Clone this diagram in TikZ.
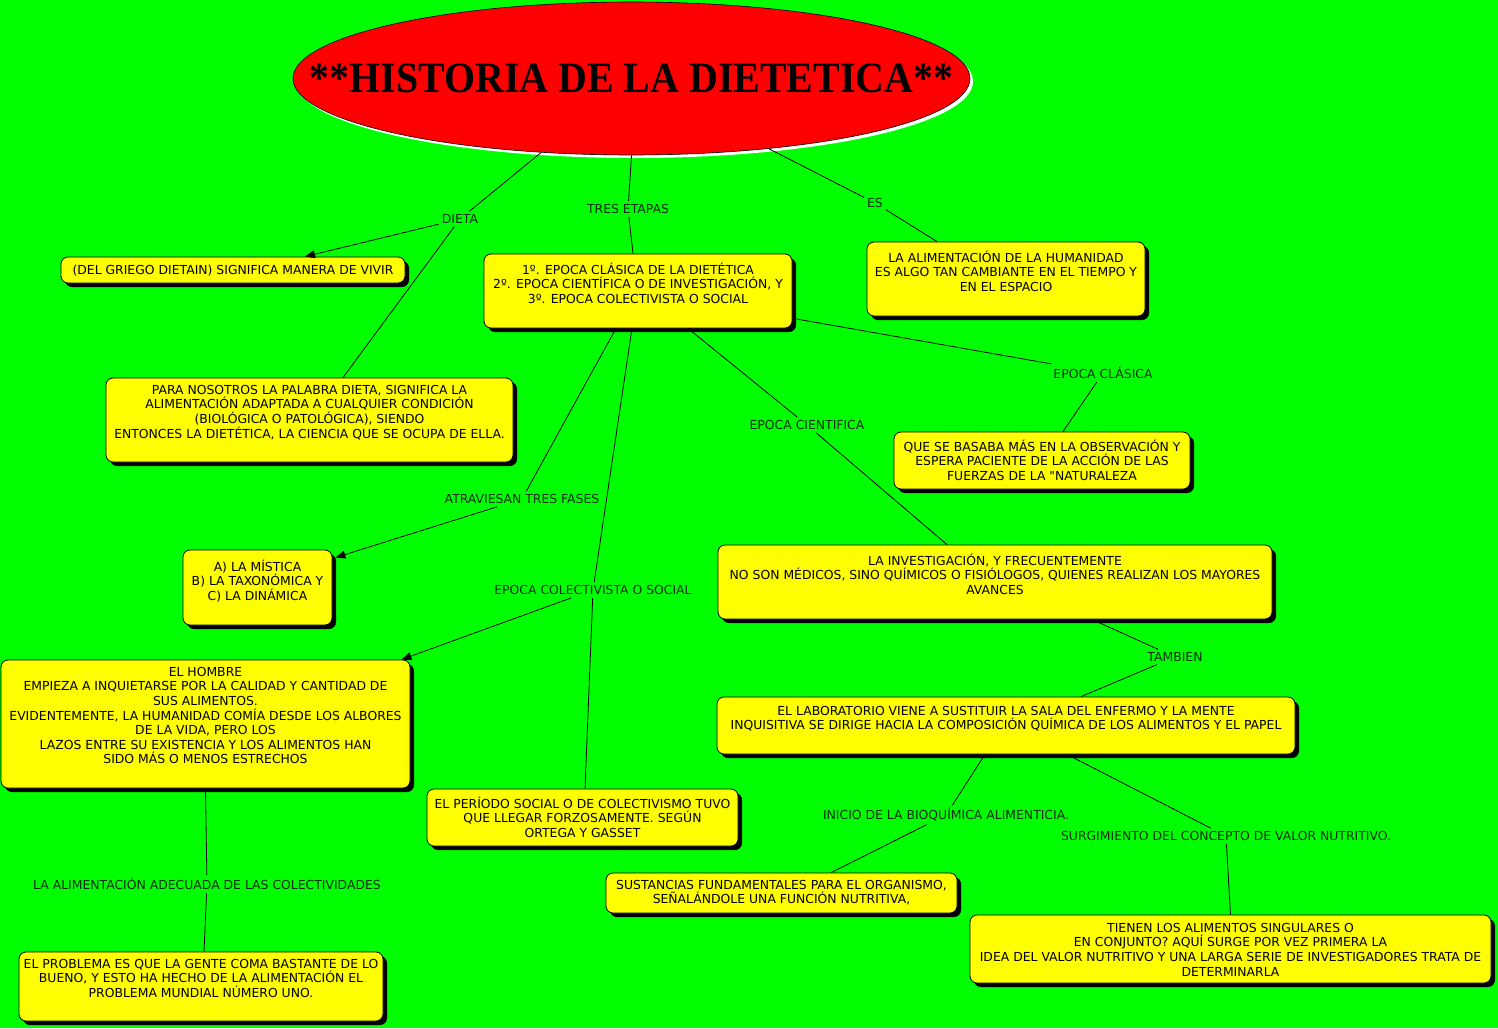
\documentclass[tikz,border=0pt]{standalone}
\usepackage{fontspec}
\setmainfont{DejaVu Sans}[Ligatures=TeXOff]
\newfontfamily\titlefont{Liberation Serif}
\usetikzlibrary{shapes.geometric,shadows,arrows.meta}
\definecolor{bggreen}{RGB}{0,255,0}
\definecolor{boxyellow}{RGB}{255,255,0}
\definecolor{titlered}{RGB}{255,0,0}
\definecolor{labelcol}{RGB}{10,45,10}
\newcommand{\bodyfont}{\fontsize{12.4}{14.6}\selectfont}
\newcommand{\ybox}[7]{%
  \node[ybox, minimum width=#4pt, minimum height=#5pt] (#1) at (#2,#3) {};
  \node[btext] (#1t) at ([yshift=-#6pt]#1.north) {\rule{0pt}{13pt}#7};}
\begin{document}
\begin{tikzpicture}[x=1pt,y=-1pt,
  ybox/.style={draw=black, line width=0.8pt, fill=boxyellow, rounded corners=7pt, inner sep=0pt,
     drop shadow={shadow xshift=4pt, shadow yshift=-4pt, fill=black, opacity=1}},
  btext/.style={anchor=north, inner sep=0pt, align=center, font=\bodyfont, text=black},
  lab/.style={inner sep=3pt, font=\bodyfont, text=labelcol},
  conn/.style={draw=black, line width=0.8pt},
  arr/.style={conn, -{Triangle[length=10pt,width=8pt]}}]
\fill[bggreen] (0,0) rectangle (1498,1028);
\useasboundingbox (0,0) rectangle (1498,1028);
% title ellipse
\node[ellipse, draw=black, line width=0.6pt, fill=titlered, minimum width=677pt, minimum height=153pt, inner sep=0pt,
  drop shadow={shadow xshift=3pt, shadow yshift=-3pt, fill=white, opacity=1}] (E) at (631.5,78.5) {};
\node[inner sep=0pt] (title) at (E.center) {\scalebox{0.95}[1.03]{\titlefont\bfseries\fontsize{42}{46}\selectfont **HISTORIA DE LA DIETETICA**}};
% boxes
\ybox{B1}{233}{270}{344}{26}{4.5}{(DEL GRIEGO DIETAIN) SIGNIFICA MANERA DE VIVIR}
\ybox{B2}{309.5}{420}{407}{84}{3.5}{PARA NOSOTROS LA PALABRA DIETA, SIGNIFICA LA\\ALIMENTACIÓN ADAPTADA A CUALQUIER CONDICIÓN\\(BIOLÓGICA O PATOLÓGICA), SIENDO\\ENTONCES LA DIETÉTICA, LA CIENCIA QUE SE OCUPA DE ELLA.}
\ybox{B3}{638}{291}{308}{74}{7.5}{1º. EPOCA CLÁSICA DE LA DIETÉTICA\\2º. EPOCA CIENTÍFICA O DE INVESTIGACIÓN, Y\\3º. EPOCA COLECTIVISTA O SOCIAL}
\ybox{B4}{1006}{279}{278}{74}{7.5}{LA ALIMENTACIÓN DE LA HUMANIDAD\\ES ALGO TAN CAMBIANTE EN EL TIEMPO Y\\EN EL ESPACIO}
\ybox{B5}{1042}{460.5}{296}{57}{6.5}{QUE SE BASABA MÁS EN LA OBSERVACIÓN Y\\ESPERA PACIENTE DE LA ACCIÓN DE LAS\\FUERZAS DE LA "NATURALEZA}
\ybox{B6}{995}{582}{554}{74}{7.5}{LA INVESTIGACIÓN, Y FRECUENTEMENTE\\NO SON MÉDICOS, SINO QUÍMICOS O FISIÓLOGOS, QUIENES REALIZAN LOS MAYORES\\AVANCES}
\ybox{B7}{1006}{725.5}{578}{57}{5.5}{EL LABORATORIO VIENE A SUSTITUIR LA SALA DEL ENFERMO Y LA MENTE\\INQUISITIVA SE DIRIGE HACIA LA COMPOSICIÓN QUÍMICA DE LOS ALIMENTOS Y EL PAPEL}
\ybox{B8}{257.5}{587.5}{149}{75}{8.5}{A) LA MÍSTICA\\B) LA TAXONÓMICA Y\\C) LA DINÁMICA}
\ybox{B9}{205.5}{724}{409}{128}{3.5}{EL HOMBRE\\EMPIEZA A INQUIETARSE POR LA CALIDAD Y CANTIDAD DE\\SUS ALIMENTOS.\\EVIDENTEMENTE, LA HUMANIDAD COMÍA DESDE LOS ALBORES\\DE LA VIDA, PERO LOS\\LAZOS ENTRE SU EXISTENCIA Y LOS ALIMENTOS HAN\\SIDO MÁS O MENOS ESTRECHOS}
\ybox{B10}{582.5}{817.5}{311}{57}{6.5}{EL PERÍODO SOCIAL O DE COLECTIVISMO TUVO\\QUE LLEGAR FORZOSAMENTE. SEGÚN\\ORTEGA Y GASSET}
\ybox{B11}{781.5}{893}{351}{40}{3.5}{SUSTANCIAS FUNDAMENTALES PARA EL ORGANISMO,\\SEÑALÁNDOLE UNA FUNCIÓN NUTRITIVA,}
\ybox{B12}{1230.5}{949}{521}{68}{4.5}{TIENEN LOS ALIMENTOS SINGULARES O\\EN CONJUNTO? AQUÍ SURGE POR VEZ PRIMERA LA\\IDEA DEL VALOR NUTRITIVO Y UNA LARGA SERIE DE INVESTIGADORES TRATA DE\\DETERMINARLA}
\ybox{B13}{201}{986.5}{364}{69}{3.5}{EL PROBLEMA ES QUE LA GENTE COMA BASTANTE DE LO\\BUENO, Y ESTO HA HECHO DE LA ALIMENTACIÓN EL\\PROBLEMA MUNDIAL NÚMERO UNO.}
% labels
\node[lab] (lDieta) at (460,219) {DIETA};
\node[lab] (lTres) at (628,209) {TRES ETAPAS};
\node[lab] (lEs) at (875,203) {ES};
\node[lab] (lClas) at (1103,373) {EPOCA CLÁSICA};
\node[lab] (lCien) at (807,425) {EPOCA CIENTIFICA};
\node[lab] (lAtr) at (522,499) {ATRAVIESAN TRES FASES};
\node[lab] (lCol) at (593,590) {EPOCA COLECTIVISTA O SOCIAL};
\node[lab] (lTam) at (1175,657) {TAMBIEN};
\node[lab] (lIni) at (946,815) {INICIO DE LA BIOQUÍMICA ALIMENTICIA.};
\node[lab] (lSur) at (1226,836) {SURGIMIENTO DEL CONCEPTO DE VALOR NUTRITIVO.};
\node[lab] (lAde) at (207,884) {LA ALIMENTACIÓN ADECUADA DE LAS COLECTIVIDADES};
% connectors
\draw[conn] (E) -- (lDieta);
\draw[arr] (lDieta) -- ([xshift=72pt]B1.north);
\draw[conn] (lDieta) -- ([xshift=33.5pt]B2.north);
\draw[conn] (E.south) -- (lTres);
\draw[conn] (lTres) -- ([xshift=-5pt]B3.north);
\draw[conn] (E) -- (lEs);
\draw[conn] (lEs) -- ([xshift=-69pt]B4.north);
\draw[conn] ([xshift=4pt,yshift=-28pt]B3.east) -- (lClas);
\draw[conn] (lClas) -- ([xshift=21pt]B5.north);
\draw[conn] ([xshift=50pt]B3.south) -- (lCien);
\draw[conn] (lCien) -- ([xshift=-48pt]B6.north);
\draw[conn] ([xshift=-22pt]B3.south) -- (lAtr);
\draw[arr] (lAtr) -- ([xshift=3pt,yshift=-8pt]B8.north east);
\draw[conn] ([xshift=-6pt]B3.south) -- (lCol);
\draw[conn] (lCol) -- ([xshift=2.5pt]B10.north);
\draw[arr] (lCol) -- ([xshift=-9pt]B9.north east);
\draw[conn] ([xshift=97pt]B6.south) -- (lTam);
\draw[conn] (lTam) -- ([xshift=75pt]B7.north);
\draw[conn] ([xshift=-21pt]B7.south) -- (lIni);
\draw[conn] (lIni) -- ([xshift=49.5pt]B11.north);
\draw[conn] ([xshift=61pt]B7.south) -- (lSur);
\draw[conn] (lSur) -- (B12.north);
\draw[conn] (B9.south) -- (lAde);
\draw[conn] (lAde) -- ([xshift=3pt]B13.north);
\end{tikzpicture}
\end{document}
